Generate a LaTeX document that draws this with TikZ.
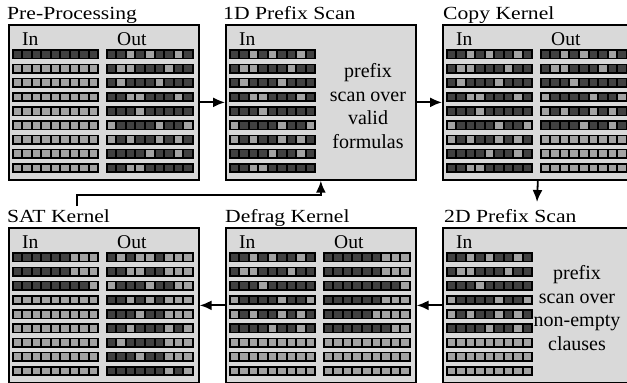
\documentclass[tikz,border=0pt]{standalone}
\usepackage{fontspec}
\setmainfont{Liberation Serif}
\usetikzlibrary{arrows.meta}
\definecolor{c0}{gray}{0.25}
\definecolor{c1}{gray}{0.64}
\definecolor{panelfill}{gray}{0.85}
\newcommand{\cellgrid}[3]{%
  \foreach \rp [count=\r from 0] in #3 {%
    \fill[black] (#1,#2+\r*14.2) rectangle ++(87.6,10);
    \foreach \v [count=\i from 0] in \rp {%
      \fill[c\v] (#1+1.9+\i*9.53,#2+\r*14.2+1.6) rectangle ++(7.5,6.8);
    }%
  }%
}
\newcommand{\ttltext}[1]{\scalebox{1.17}[1]{#1}}
\def\patPin{{0,0,0,0,0,0,0,0,0},{1,1,1,1,1,1,1,1,1},{1,1,1,1,1,1,1,1,1},{1,1,1,1,1,1,1,1,1},{1,1,1,1,1,1,1,1,1},{1,1,1,1,1,1,1,1,1},{1,1,1,1,1,1,1,1,1},{1,1,1,1,1,1,1,1,1},{1,1,1,1,1,1,1,1,1}}
\def\patA{{0,0,1,0,1,0,0,1,0},{0,1,1,0,0,0,1,0,0},{0,1,0,0,0,1,0,0,0},{0,0,1,1,0,0,0,1,0},{0,0,0,1,0,0,0,0,0},{1,0,0,0,0,1,0,0,1},{1,0,1,0,0,1,0,1,0},{0,0,0,0,1,0,0,1,0},{0,0,1,1,0,0,0,0,0}}
\def\patB{{0,0,1,0,1,0,0,1,0},{0,1,1,0,0,0,1,0,0},{0,0,0,1,0,0,0,0,0},{1,0,0,0,0,1,0,0,1},{1,0,1,0,0,1,0,1,0},{0,0,0,0,1,0,0,1,0},{1,1,1,1,1,1,1,1,1},{1,1,1,1,1,1,1,1,1},{1,1,1,1,1,1,1,1,1}}
\def\patC{{0,0,0,0,0,0,1,1,1},{0,0,0,0,0,0,1,1,1},{0,0,0,0,0,0,0,0,1},{0,0,0,0,0,0,1,1,1},{0,0,0,0,0,1,1,1,1},{0,0,0,0,0,0,0,1,1},{1,1,1,1,1,1,1,1,1},{1,1,1,1,1,1,1,1,1},{1,1,1,1,1,1,1,1,1}}
\def\patSin{{0,0,0,0,0,0,1,1,1},{0,0,0,0,0,0,1,1,1},{0,0,0,0,0,0,0,0,1},{1,1,1,1,1,1,1,1,1},{1,1,1,1,1,1,1,1,1},{1,1,1,1,1,1,1,1,1},{1,1,1,1,1,1,1,1,1},{1,1,1,1,1,1,1,1,1},{1,1,1,1,1,1,1,1,1}}
\def\patSout{{0,1,0,1,1,0,1,1,1},{0,0,1,1,0,0,1,1,1},{1,0,0,0,1,0,0,1,1},{0,0,1,0,1,0,1,1,1},{0,0,0,1,0,0,1,1,1},{0,0,1,0,0,0,1,0,1},{0,1,0,0,0,0,1,1,1},{0,0,0,1,0,0,1,1,1},{0,0,0,0,0,0,1,0,1}}
\begin{document}
\begin{tikzpicture}[x=1pt,y=-1pt,
  panel/.style={draw=black,line width=1.7pt,fill=panelfill,minimum width=190pt,minimum height=155pt,inner sep=0pt,anchor=north west},
  ttl/.style={anchor=base west,inner sep=0pt,font=\fontsize{18.5}{21}\selectfont},
  lbl/.style={anchor=base west,inner sep=0pt,font=\fontsize{19.5}{22}\selectfont},
  body/.style={inner sep=0pt,align=center,font=\fontsize{20}{23.5}\selectfont},
  arr/.style={line width=1.8pt,-{Latex[length=12pt,width=10pt]}}]
\useasboundingbox (0,0) rectangle (627,383);
\clip (0,0) rectangle (627,383);
% panels
\node[panel] (b1) at (8,24) {};
\node[panel] (b2) at (225,24) {};
\node[panel] (b3) at (442,24) {};
\node[panel] (b4) at (8,227) {};
\node[panel] (b5) at (225,227) {};
\node[panel] (b6) at (442,227) {};
% titles
\node[ttl] (t1) at (7,19) {\ttltext{Pre-Processing}};
\node[ttl] (t2) at (223,19) {\ttltext{1D Prefix Scan}};
\node[ttl] (t3) at (443,19) {\ttltext{Copy Kernel}};
\node[ttl] (t4) at (7,222) {\ttltext{SAT Kernel}};
\node[ttl] (t5) at (225,222) {\ttltext{Defrag Kernel}};
\node[ttl] (t6) at (444,222) {\ttltext{2D Prefix Scan}};
% In / Out labels
\node[lbl] (i1) at (22,45) {In};
\node[lbl] (o1) at (117,45) {Out};
\node[lbl] (i2) at (239,45) {In};
\node[lbl] (i3) at (456,45) {In};
\node[lbl] (o3) at (551,45) {Out};
\node[lbl] (i4) at (22,248) {In};
\node[lbl] (o4) at (117,248) {Out};
\node[lbl] (i5) at (239,248) {In};
\node[lbl] (o5) at (334,248) {Out};
\node[lbl] (i6) at (456,248) {In};
% grids
\cellgrid{11.7}{49.3}{\patPin}
\cellgrid{106}{49.3}{\patA}
\cellgrid{228.7}{49.3}{\patA}
\cellgrid{445.7}{49.3}{\patA}
\cellgrid{540}{49.3}{\patB}
\cellgrid{11.7}{252.3}{\patSin}
\cellgrid{106}{252.3}{\patSout}
\cellgrid{228.7}{252.3}{\patB}
\cellgrid{323}{252.3}{\patC}
\cellgrid{445.7}{252.3}{\patB}
% body texts
\node[body] (s2) at (368,106) {prefix\\scan over\\valid\\formulas};
\node[body] (s6) at (577,308) {prefix\\scan over\\non-empty\\clauses};
% connectors
\draw[arr] (b1) -- (b2);
\draw[arr] (b2) -- (b3);
\coordinate (a3) at (537,202);
\draw[arr] (b3.south) -- (a3);
\draw[arr] (b6) -- (b5);
\draw[arr] (b5) -- (b4);
\coordinate (fbs) at (77,206);
\coordinate (fbc) at (77,195);
\draw[arr] (fbs) -- (fbc) -| (b2.south);
\end{tikzpicture}
\end{document}
